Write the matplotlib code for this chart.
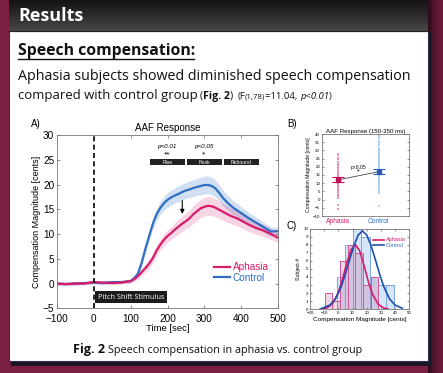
import numpy as np
import matplotlib
matplotlib.use('Agg')
import matplotlib.pyplot as plt
from matplotlib.patches import Rectangle
from matplotlib.colors import LinearSegmentedColormap

# ---------------- data ----------------
time_ms = [-100, -75, -50, -25, 0, 25, 50, 75, 100, 110, 120, 130, 140, 150, 160, 170, 180, 190,
           200, 210, 220, 230, 240, 250, 260, 270, 280, 290, 300, 310, 320, 330, 340, 350, 360,
           370, 380, 390, 400, 420, 440, 460, 480, 500]
control = [0.0, -0.1, 0.0, 0.1, 0.2, 0.1, 0.3, 0.3, 0.5, 1.1, 2.0, 4.2, 7.0, 9.5, 12.0, 13.9, 15.2, 16.2,
           16.9, 17.4, 17.8, 18.1, 18.5, 18.8, 19.0, 19.3, 19.5, 19.7, 19.9, 19.9, 19.7, 19.2, 18.3, 17.3, 16.5,
           15.8, 15.2, 14.7, 14.2, 13.2, 12.3, 11.4, 10.5, 10.6]
control_se = [0.3, 0.3, 0.3, 0.3, 0.3, 0.3, 0.3, 0.3, 0.4, 0.5, 0.6, 0.8, 0.9, 1.0, 1.1, 1.2, 1.3, 1.4,
              1.5, 1.5, 1.5, 1.6, 1.6, 1.6, 1.7, 1.7, 1.7, 1.8, 1.8, 1.8, 1.8, 1.7, 1.6, 1.6, 1.5,
              1.5, 1.4, 1.4, 1.3, 1.2, 1.1, 1.0, 0.9, 0.8]
aphasia = [0.0, -0.1, 0.0, 0.0, 0.3, 0.2, 0.1, 0.2, 0.5, 0.9, 1.5, 2.3, 3.1, 4.0, 5.1, 6.6, 7.8, 8.8,
           9.6, 10.2, 10.9, 11.5, 12.1, 12.6, 13.2, 14.0, 14.6, 15.2, 15.5, 15.7, 15.6, 15.3, 14.9, 14.5, 14.1,
           13.7, 13.4, 13.1, 12.7, 11.9, 11.2, 10.7, 10.0, 9.2]
aphasia_se = [0.3, 0.3, 0.3, 0.3, 0.3, 0.3, 0.3, 0.3, 0.4, 0.5, 0.6, 0.7, 0.8, 0.9, 1.0, 1.1, 1.1, 1.2,
              1.2, 1.3, 1.4, 1.5, 1.5, 1.6, 1.7, 1.8, 1.8, 1.9, 1.9, 1.9, 1.9, 1.8, 1.8, 1.7, 1.7,
              1.6, 1.6, 1.5, 1.5, 1.4, 1.3, 1.2, 1.1, 1.0]
phase_labels = ['Rise', 'Peak', 'Rebound']
phase_start = [152, 252, 352]
phase_end = [248, 348, 447]
phase_p = ['p<0.01', 'p<0.05', '']
phase_stars = ['**', '*', '']

groups = ['Aphasia', 'Control']
aphasia_pts = [28.0, 27.0, 25.5, 24.5, 23.0, 22.0, 21.0, 20.0, 19.0, 18.0, 17.0, 16.0, 15.0, 14.5, 14.0,
               13.5, 13.0, 12.5, 12.0, 11.5, 11.0, 10.5, 10.0, 9.0, 8.5, 8.0, 7.0, 6.0, 5.0, 4.0, 3.0,
               2.0, 1.0, -3.5, -5.5]
control_pts = [39.5, 38.5, 37.5, 36.0, 35.0, 34.0, 33.0, 31.5, 30.5, 29.5, 28.5, 27.5, 26.5, 25.5, 24.5,
               23.5, 22.5, 21.5, 20.5, 20.0, 19.0, 18.5, 18.0, 17.0, 16.5, 16.0, 15.0, 14.0, 13.5, 12.5,
               11.5, 10.5, 9.5, 8.5, 7.5, 6.5, 5.0, 4.0, -4.0]
group_means = [12.0, 17.0]
group_sem = [1.5, 1.5]

aph_edges = [-9.6, -4.2, 1.2, 6.6, 12.0, 17.4, 22.8, 28.2]
aph_counts = [2, 1, 6, 8, 7, 3, 4]
ctl_edges = [-0.8, 4.9, 10.6, 16.3, 22.0, 27.7, 33.4, 39.1]
ctl_counts = [4, 8, 10, 9, 4, 3, 3]
aph_fit_x = [-13, -8, -4, 0, 3, 6, 9, 12, 15, 18, 21, 24, 28, 32, 35]
aph_fit_y = [0.02, 0.18, 0.72, 2.1, 3.8, 5.8, 7.4, 8.0, 7.25, 5.5, 3.5, 1.9, 0.64, 0.16, 0.05]
ctl_fit_x = [-12, -6, -2, 2, 5, 8, 11, 14, 17, 20, 23, 26, 29, 32, 36, 40, 45]
ctl_fit_y = [0.09, 0.52, 1.3, 2.8, 4.4, 6.2, 7.9, 9.2, 9.7, 9.2, 7.9, 6.2, 4.4, 2.8, 1.3, 0.52, 0.13]

# ---------------- styling ----------------
PINK = '#d81b6a'
BLUE = '#2f6ec4'
W, H = 443, 373
POSTER = 'Open Sans'
CHART = 'Liberation Sans'

fig = plt.figure(figsize=(W / 100, H / 100), dpi=100)
fig.patch.set_facecolor('#7a1f42')
renderer = fig.canvas.get_renderer()


def rect(l, t, r, b):
    return [l / W, 1 - b / H, (r - l) / W, (b - t) / H]


bg = fig.add_axes([0, 0, 1, 1])
bg.axis('off')
shade = np.linspace(0, 1, 60).reshape(1, -1)
bg.imshow(shade, extent=[428, 443, 373, 0], aspect='auto', zorder=0,
          cmap=LinearSegmentedColormap.from_list('s', ['#2a0a18', '#5a1533', '#6e1c3d']))
bg.add_patch(Rectangle((11, 33), 420, 333, fc='#1b1422', ec='none', zorder=1))
bg.add_patch(Rectangle((9, 31), 419, 330, fc='white', ec='#2b3550', lw=0.8, zorder=2))
grad = np.linspace(0, 1, 50).reshape(-1, 1)
bg.imshow(grad, extent=[9, 428, 31, 0], aspect='auto', zorder=3,
          cmap=LinearSegmentedColormap.from_list('h', ['#141414', '#2c2c2c', '#474747']))
bg.plot([9, 428], [31, 31], color='#222222', lw=0.8, zorder=4)
bg.set_xlim(0, W)
bg.set_ylim(H, 0)


def fit(x, y, s, width, size0=10, **kw):
    t = bg.text(x, y, s, fontsize=size0, va='baseline', zorder=6, **kw)
    bb = t.get_window_extent(renderer=renderer)
    t.set_fontsize(size0 * width / bb.width)
    return t


def place(x, y, s, size, **kw):
    t = bg.text(x, y, s, fontsize=size, va='baseline', zorder=6, **kw)
    bb = t.get_window_extent(renderer=renderer)
    return bb.x1


fit(18, 21, 'Results', 66, family=POSTER, weight='bold', color='white')
fit(18, 55, 'Speech compensation:', 176, family=POSTER, weight='bold', color='#111111')
bg.plot([18, 194], [58.5, 58.5], color='#111111', lw=1.0, zorder=6)
fit(18, 80, 'Aphasia subjects showed diminished speech compensation', 395,
    family=POSTER, color='#111111')
t2 = fit(18, 99, 'compared with control group', 179, family=POSTER, color='#111111')
s2 = t2.get_fontsize()
x = 200
x = place(x, 99, '(', s2 * 0.8, family=POSTER, color='#111111')
x = place(x, 99, 'Fig. 2', s2 * 0.8, family=POSTER, weight='bold', color='#111111')
x = place(x, 99, ')', s2 * 0.8, family=POSTER, color='#111111')
x = place(x + 4, 99, '(F', s2 * 0.72, family=POSTER, color='#111111')
x = place(x, 99, '(1,78)', s2 * 0.6, family=POSTER, color='#111111')
x = place(x, 99, '=11.04, ', s2 * 0.72, family=POSTER, color='#111111')
x = place(x, 99, 'p<0.01', s2 * 0.72, family=POSTER, style='italic', color='#111111')
x = place(x, 99, ')', s2 * 0.72, family=POSTER, color='#111111')

fit(73, 353, 'Fig. 2', 32, family=POSTER, weight='bold', color='#111111')
fit(108, 353, 'Speech compensation in aphasia vs. control group', 255, family=POSTER, color='#111111')

bg.text(31, 127, 'A)', fontsize=7, family=CHART, va='baseline', zorder=6)
bg.text(287, 127, 'B)', fontsize=7, family=CHART, va='baseline', zorder=6)
bg.text(287, 229, 'C)', fontsize=7, family=CHART, va='baseline', zorder=6)


def style_axes(ax, labelsize):
    for sp in ax.spines.values():
        sp.set_color('#777777')
        sp.set_linewidth(0.6)
    ax.tick_params(direction='in', top=True, right=True, labelsize=labelsize, width=0.5,
                   color='#666666', pad=1.2)
    for lab in ax.get_xticklabels() + ax.get_yticklabels():
        lab.set_family(CHART)


# ---------------- panel A ----------------
axA = fig.add_axes(rect(56.7, 135, 278.3, 308.3))
t_arr = np.array(time_ms)
c = np.array(control); cse = np.array(control_se)
a = np.array(aphasia); ase = np.array(aphasia_se)
axA.fill_between(t_arr, c - cse, c + cse, color=BLUE, alpha=0.22, lw=0)
axA.fill_between(t_arr, a - ase, a + ase, color=PINK, alpha=0.18, lw=0)
lc, = axA.plot(t_arr, c, color=BLUE, lw=1.6, label='Control')
la, = axA.plot(t_arr, a, color=PINK, lw=1.6, label='Aphasia')
axA.axvline(0, color='black', lw=1.2, ls=(0, (3, 2)))
axA.set_xlim(-100, 500)
axA.set_ylim(-5, 30)
axA.set_xticks(range(-100, 501, 100))
axA.set_yticks(range(-5, 31, 5))
style_axes(axA, 7.2)
axA.tick_params(length=2.5)
axA.tick_params(axis='x', pad=4.0)
axA.tick_params(axis='y', pad=1.8)
axA.set_xlabel('Time [sec]', fontsize=6.8, family=CHART, labelpad=0)
axA.set_ylabel('Compensation Magnitude [cents]', fontsize=6.5, family=CHART, labelpad=1.5)
axA.set_title('AAF Response', fontsize=7, family=CHART, pad=3)
axA.add_patch(Rectangle((5, -4.0), 193, 2.4, fc='#1c1c1c', ec='none', zorder=5))
axA.text(101.5, -2.8, 'Pitch Shift Stimulus', color='white', fontsize=5.3, family=POSTER,
         ha='center', va='center', zorder=6)
for x0, x1, lab, p, st in zip(phase_start, phase_end, phase_labels, phase_p, phase_stars):
    axA.add_patch(Rectangle((x0, 23.9), x1 - x0, 1.2, fc='#222222', ec='none', zorder=5))
    axA.text((x0 + x1) / 2, 24.5, lab, color='white', fontsize=3.6, family=CHART,
             ha='center', va='center', zorder=6)
    if p:
        axA.text((x0 + x1) / 2 - 2, 27.6, p, fontsize=4.5, style='italic', family=CHART,
                 ha='center', va='center')
        axA.text((x0 + x1) / 2 - 2, 25.9, st, fontsize=6, family=CHART, ha='center', va='center')
axA.annotate('', xy=(240, 13.5), xytext=(240, 17.3),
             arrowprops=dict(arrowstyle='-|>', color='black', lw=0.8, mutation_scale=6))
axA.legend(handles=[la, lc], loc='lower right', bbox_to_anchor=(0.975, 0.125),
           frameon=False, handlelength=1.6, handletextpad=0.3,
           labelspacing=0.05, borderaxespad=0, labelcolor='linecolor',
           prop={'family': CHART, 'size': 7.2})

# ---------------- panel B ----------------
axB = fig.add_axes(rect(321.7, 134, 409, 216))
axB.scatter(np.full(len(aphasia_pts), 1.0), aphasia_pts, marker='s', s=3.5, color='#e07ab0',
            alpha=0.75, lw=0, zorder=2)
axB.scatter(np.full(len(control_pts), 2.0), control_pts, marker='s', s=3.5, color='#9cc8ee',
            alpha=0.8, lw=0, zorder=2)
axB.plot([1, 2], group_means, color='#444444', lw=0.6, zorder=3)
axB.errorbar([1], [group_means[0]], yerr=[group_sem[0]], fmt='s', ms=2.5, color='#c0105a',
             capsize=4, elinewidth=0.8, capthick=0.8, zorder=4)
axB.errorbar([2], [group_means[1]], yerr=[group_sem[1]], fmt='s', ms=2.5, color='#2a5cb0',
             capsize=4, elinewidth=0.8, capthick=0.8, zorder=4)
axB.text(1.5, 19.8, 'p<0.05', fontsize=3.6, family=CHART, ha='center', va='center')
axB.text(1.5, 16.6, '*', fontsize=5, family=CHART, ha='center', va='center')
axB.set_xlim(0.6, 2.75)
axB.set_ylim(-10, 40)
axB.set_yticks(range(-10, 41, 5))
axB.set_xticks([1, 2])
axB.set_xticklabels(groups)
style_axes(axB, 3.2)
axB.tick_params(length=1.5)
axB.tick_params(axis='x', labelsize=4.8, length=0, pad=1.5)
for lab, col in zip(axB.get_xticklabels(), [PINK, BLUE]):
    lab.set_color(col)
axB.set_title('AAF Response (150-350 ms)', fontsize=4.4, family=CHART, pad=0.8)
axB.set_ylabel('Compensation Magnitude [cents]', fontsize=3.6, family=CHART, labelpad=1.5)

# ---------------- panel C ----------------
axC = fig.add_axes(rect(310, 228.5, 409.3, 309.3))
ce = np.array(ctl_edges); ae = np.array(aph_edges)
axC.bar(ce[:-1], ctl_counts, width=np.diff(ce), align='edge', color='#d4e6f7',
        edgecolor='#7fa8df', lw=0.7, zorder=1)
axC.bar(ae[:-1], aph_counts, width=np.diff(ae), align='edge', color='#c878a8', alpha=0.3,
        edgecolor=PINK, lw=0.7, zorder=2)
axC.bar(ae[:-1], aph_counts, width=np.diff(ae), align='edge', fill=False,
        edgecolor='#d0589a', lw=0.7, zorder=2)
ha_, = axC.plot(aph_fit_x, aph_fit_y, color=PINK, lw=1.2, zorder=3, label='Aphasia')
hc_, = axC.plot(ctl_fit_x, ctl_fit_y, color='#1f4fb0', lw=1.2, zorder=3, label='Control')
axC.set_xlim(-20, 50)
axC.set_ylim(0, 10)
axC.set_xticks(range(-20, 51, 10))
axC.set_yticks(range(0, 11, 1))
style_axes(axC, 3.2)
axC.tick_params(length=1.5)
axC.set_xlabel('Compensation Magnitude [cents]', fontsize=4.6, family=CHART, labelpad=1.5)
axC.set_ylabel('Subject #', fontsize=3.8, family=CHART, labelpad=1.5)
axC.legend(handles=[ha_, hc_], loc='upper right', bbox_to_anchor=(1.0, 0.93), frameon=False,
           handlelength=2.0, handletextpad=0.3, labelspacing=0.1, borderaxespad=0.2,
           labelcolor=[PINK, BLUE], prop={'family': CHART, 'size': 4})

fig.savefig('out.png', dpi=100, facecolor=fig.get_facecolor())
